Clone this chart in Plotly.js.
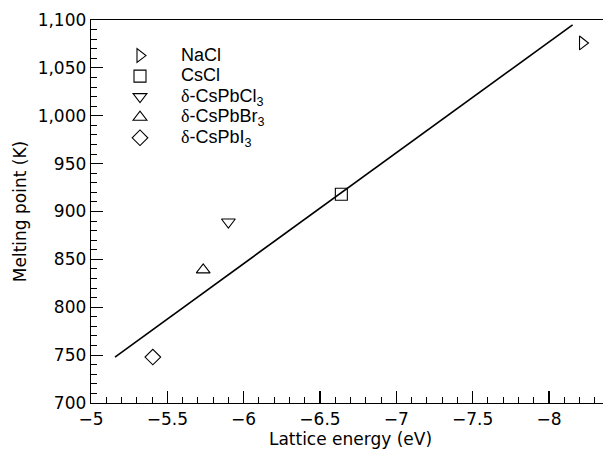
<!DOCTYPE html>
<html>
<head>
<meta charset="utf-8">
<script src="https://cdn.plot.ly/plotly-3.0.1.min.js"></script>
<style>
html, body { margin: 0; padding: 0; overflow: hidden; background: #fff; }
#chart { width: 620px; height: 451px; }
</style>
</head>
<body>
<div id="chart"></div>
<script>
const delta = "<span style=\"font-family:'Liberation Serif',serif\">δ</span>";
const compounds = ["NaCl", "CsCl", delta + "-CsPbCl<sub>3</sub>", delta + "-CsPbBr<sub>3</sub>", delta + "-CsPbI<sub>3</sub>"];
const latticeEnergy = [-8.22, -6.64, -5.90, -5.735, -5.405];
const meltingPoint = [1076, 918, 889, 839, 748];
const symbols = ["triangle-right-open", "square-open", "triangle-down-open", "triangle-up-open", "diamond-open"];
const fitX = [-5.157, -8.155];
const fitY = [748, 1095];

const axisFont = "DejaVu Sans, Liberation Sans, Arial, sans-serif";
const legendFont = "Liberation Sans Narrow, Arial Narrow, Liberation Sans, Arial, sans-serif";

const traces = compounds.map((name, i) => ({
  type: "scatter",
  mode: "markers",
  name: "<span style=\"font-size:18px\">" + name + "</span>",
  x: [latticeEnergy[i]],
  y: [meltingPoint[i]],
  marker: { symbol: symbols[i], size: 12, color: "#000", line: { color: "#000", width: 1.1 } }
}));
traces.push({
  type: "scatter",
  mode: "lines",
  x: fitX,
  y: fitY,
  showlegend: false,
  line: { color: "#000", width: 1.6 }
});

const layout = {
  width: 620,
  height: 451,
  margin: { l: 91, r: 10, t: 20, b: 48.4 },
  paper_bgcolor: "#fff",
  plot_bgcolor: "#fff",
  font: { family: axisFont, size: 17, color: "#000" },
  showlegend: true,
  legend: {
    x: 0.0154, y: 0.947, xanchor: "left", yanchor: "top",
    bgcolor: "rgba(0,0,0,0)",
    itemwidth: 72,
    font: { family: legendFont, size: 13.5, color: "#000" },
    itemclick: false
  },
  xaxis: {
    range: [-5, -8.4],
    tickvals: [-5, -5.5, -6, -6.5, -7, -7.5, -8],
    ticktext: ["−5", "−5.5", "−6", "−6.5", "−7", "−7.5", "−8"],
    ticks: "inside",
    ticklen: 12,
    tickwidth: 1.2,
    tickcolor: "#000",
    minor: { ticks: "inside", dtick: 0.1, tick0: -5, ticklen: 6, tickwidth: 1, tickcolor: "#000" },
    showline: true,
    linecolor: "#000",
    linewidth: 1.3,
    mirror: true,
    showgrid: false,
    zeroline: false,
    tickfont: { family: axisFont, size: 17, color: "#000" },
    title: { text: "Lattice energy (eV)", font: { family: axisFont, size: 17, color: "#000" }, standoff: 2 }
  },
  yaxis: {
    range: [700, 1100],
    dtick: 50,
    tickformat: ",d",
    ticks: "inside",
    ticklen: 12,
    tickwidth: 1.2,
    tickcolor: "#000",
    minor: { ticks: "inside", dtick: 10, ticklen: 6, tickwidth: 1, tickcolor: "#000" },
    showline: true,
    linecolor: "#000",
    linewidth: 1.3,
    mirror: true,
    showgrid: false,
    zeroline: false,
    tickfont: { family: axisFont, size: 17, color: "#000" },
    title: { text: "Melting point (K)", font: { family: axisFont, size: 17, color: "#000" }, standoff: 6 }
  }
};

Plotly.newPlot("chart", traces, layout, { displayModeBar: false, staticPlot: true });
</script>
</body>
</html>
